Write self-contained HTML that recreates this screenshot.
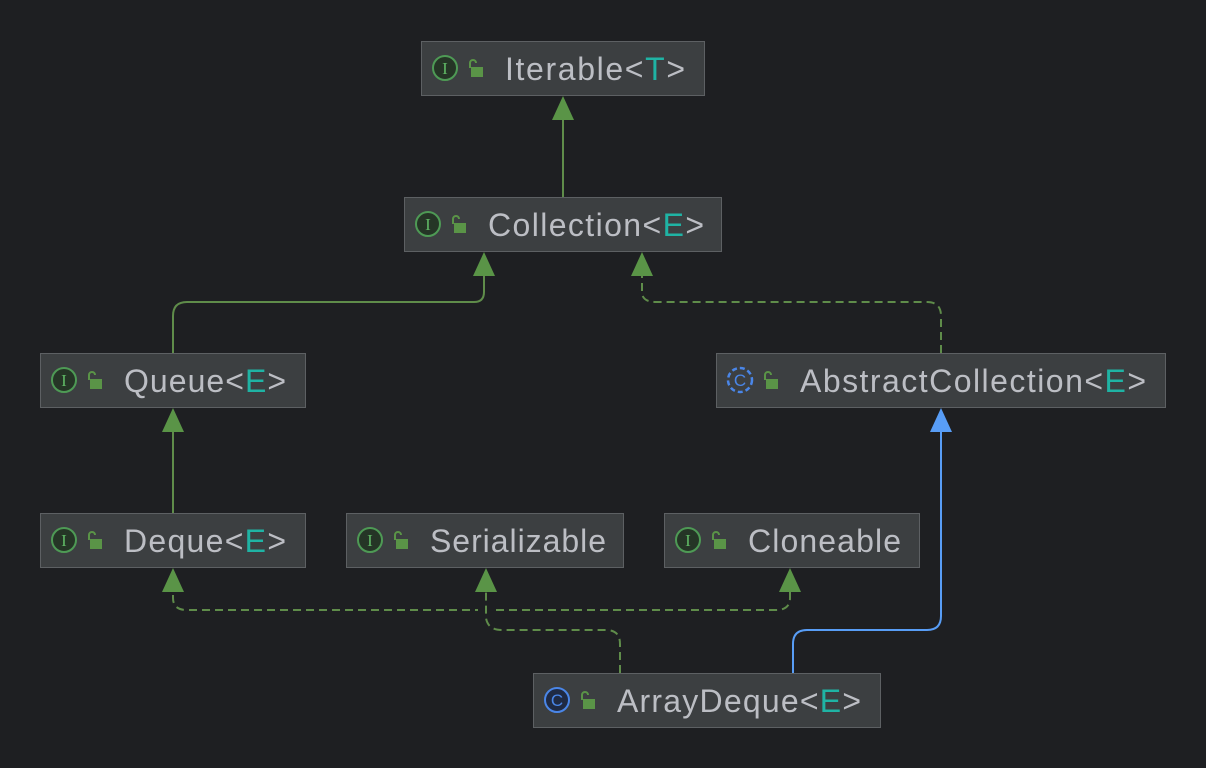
<!DOCTYPE html>
<html><head><style>
html,body{margin:0;padding:0;background:#1e1f22;}
svg{display:block;}
text{font-family:"Liberation Sans",sans-serif;font-size:32px;fill:#bcbec4;}
.t{fill:#1fb3a4;}
</style></head><body>
<svg width="1206" height="768" viewBox="0 0 1206 768" xmlns="http://www.w3.org/2000/svg">
<rect width="1206" height="768" fill="#1e1f22"/>
<defs>
<g id="ii"><circle cx="0" cy="0" r="12" fill="#253526" stroke="#4e9a55" stroke-width="2"/><text x="0" y="6" text-anchor="middle" style="font-size:17px;fill:#5fb865;font-family:'Liberation Serif',serif">I</text></g>
<g id="lk"><path d="M-4,2 v-5 a3,3 0 0 1 6,0" fill="none" stroke="#5a9447" stroke-width="2"/><rect x="-3" y="1" width="12" height="10" fill="#5a9447"/></g>
</defs>
<g fill="none" stroke="#5f8c4a" stroke-width="2">
<path d="M563,197 V110"/>
<path d="M173,353 V316 Q173,302 187,302 H474 Q484,302 484,292 V266"/>
<path d="M941,353 V316 Q941,302 927,302 H656 Q642,302 642,292 V266" stroke-dasharray="8,5"/>
<path d="M173,513 V422"/>
<path d="M620,673 V644 Q620,630 606,630 H502 Q488,630 486,618 V582" stroke-dasharray="8,5"/>
<path d="M173,582 V598 Q173,610 187,610 H478 M496,610 H776 Q790,610 790,598 V582" stroke-dasharray="8,5"/>
</g>
<path d="M793,673 V644 Q793,630 807,630 H927 Q941,630 941,616 V422" fill="none" stroke="#589df6" stroke-width="2"/>
<g fill="#5a9447">
<path d="M563,96 L552,120 L574,120Z"/>
<path d="M484,252 L473,276 L495,276Z"/>
<path d="M642,252 L631,276 L653,276Z"/>
<path d="M173,408 L162,432 L184,432Z"/>
<path d="M173,568 L162,592 L184,592Z"/>
<path d="M486,568 L475,592 L497,592Z"/>
<path d="M790,568 L779,592 L801,592Z"/>
</g>
<path d="M941,408 L930,432 L952,432Z" fill="#589df6"/>
<g fill="#3c3f41" stroke="#5d6063" stroke-width="1">
<rect x="421.5" y="41.5" width="283" height="54"/>
<rect x="404.5" y="197.5" width="317" height="54"/>
<rect x="40.5" y="353.5" width="265" height="54"/>
<rect x="716.5" y="353.5" width="449" height="54"/>
<rect x="40.5" y="513.5" width="265" height="54"/>
<rect x="346.5" y="513.5" width="277" height="54"/>
<rect x="664.5" y="513.5" width="255" height="54"/>
<rect x="533.5" y="673.5" width="347" height="54"/>
</g>
<use href="#ii" x="445" y="68"/><use href="#lk" x="474" y="66"/>
<text x="505" y="80" textLength="180" lengthAdjust="spacing">Iterable&lt;<tspan class="t">T</tspan>&gt;</text>
<use href="#ii" x="428" y="224"/><use href="#lk" x="457" y="222"/>
<text x="488" y="236" textLength="216" lengthAdjust="spacing">Collection&lt;<tspan class="t">E</tspan>&gt;</text>
<use href="#ii" x="64" y="380"/><use href="#lk" x="93" y="378"/>
<text x="124" y="392" textLength="162" lengthAdjust="spacing">Queue&lt;<tspan class="t">E</tspan>&gt;</text>
<circle cx="740" cy="380" r="12" fill="none" stroke="#4a86e8" stroke-width="2.5" stroke-dasharray="5,3"/>
<text x="740" y="386" text-anchor="middle" style="font-size:17px;fill:#4a86e8">C</text>
<use href="#lk" x="769" y="378"/>
<text x="800" y="392" textLength="346" lengthAdjust="spacing">AbstractCollection&lt;<tspan class="t">E</tspan>&gt;</text>
<use href="#ii" x="64" y="540"/><use href="#lk" x="93" y="538"/>
<text x="124" y="552" textLength="162" lengthAdjust="spacing">Deque&lt;<tspan class="t">E</tspan>&gt;</text>
<use href="#ii" x="370" y="540"/><use href="#lk" x="399" y="538"/>
<text x="430" y="552" textLength="176" lengthAdjust="spacing">Serializable</text>
<use href="#ii" x="688" y="540"/><use href="#lk" x="717" y="538"/>
<text x="748" y="552" textLength="153" lengthAdjust="spacing">Cloneable</text>
<circle cx="557" cy="700" r="12" fill="#1f2a44" stroke="#4a86e8" stroke-width="2"/>
<text x="557" y="706" text-anchor="middle" style="font-size:17px;fill:#4a86e8">C</text>
<use href="#lk" x="586" y="698"/>
<text x="617" y="712" textLength="244" lengthAdjust="spacing">ArrayDeque&lt;<tspan class="t">E</tspan>&gt;</text>
</svg>
</body></html>
